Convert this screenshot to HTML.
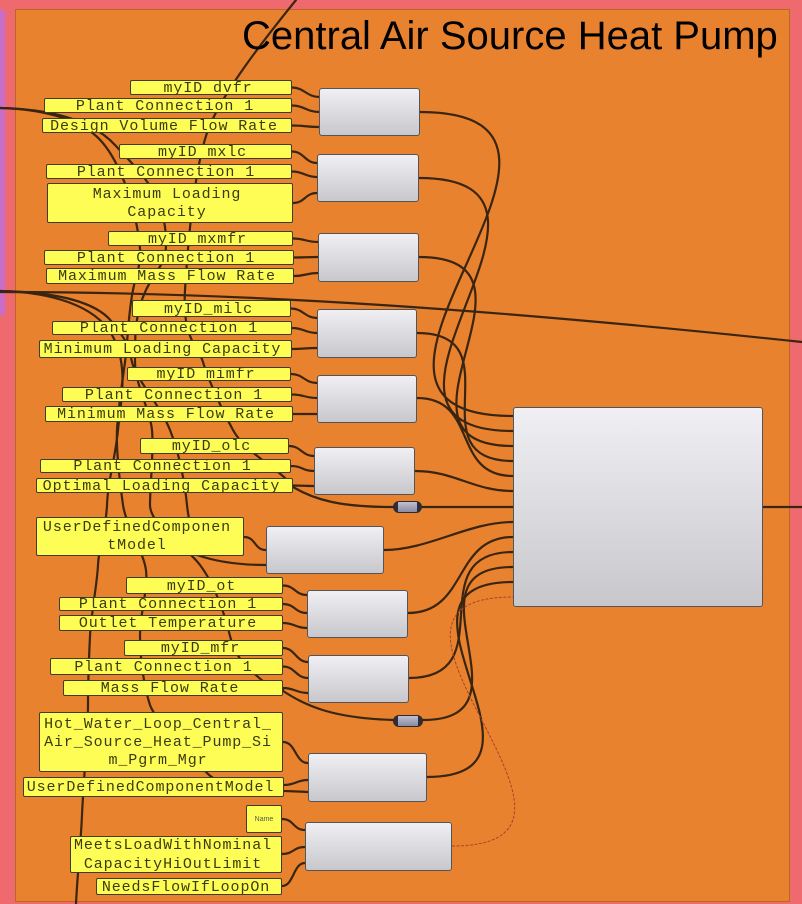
<!DOCTYPE html>
<html>
<head>
<meta charset="utf-8">
<style>
  html,body{margin:0;padding:0;}
  body{width:802px;height:904px;background:#ee6a6e;position:relative;overflow:hidden;}
  .purple{position:absolute;left:0;top:10px;width:5px;height:305px;background:#c86ec8;}
  .grp{position:absolute;left:15px;top:9px;width:775px;height:893px;background:#e8822f;box-shadow:inset 0 0 0 1px rgba(150,80,30,0.55);}
  .title{position:absolute;left:242px;top:16px;font:40px/40px "Liberation Sans",Arial,sans-serif;color:#000;white-space:nowrap;z-index:3;}
  svg.w{position:absolute;left:0;top:0;z-index:1;}
  .p{position:absolute;background:#fdfd55;border:1px solid #3e3e28;border-radius:2px;display:flex;align-items:center;justify-content:center;
     font:15px/15px "Liberation Mono","Courier New",monospace;letter-spacing:.9px;color:#3b3b10;text-align:center;white-space:nowrap;
     padding-right:6px;padding-top:1px;box-sizing:border-box;z-index:2;}
  .p.m{line-height:18px;}
  .p.s{font:7px/7px "Liberation Sans",sans-serif;letter-spacing:0;color:#555;padding:0;}
  .b{position:absolute;background:linear-gradient(#f0f0f4,#c8c8cc);border:1px solid #50555a;border-radius:3px;box-sizing:border-box;z-index:2;}
  .pill{position:absolute;height:12px;border-radius:6px;box-sizing:border-box;border:1px solid #2a2a30;
        background:linear-gradient(to right,#2e2e38 0,#2e2e38 4px,transparent 4px,transparent calc(100% - 4px),#2e2e38 calc(100% - 4px)),linear-gradient(#c0c0d4,#8a8aa2);z-index:2;}
</style>
</head>
<body>
<div class="purple"></div>
<div class="grp"></div>

<svg class="w" width="802" height="904" viewBox="0 0 802 904">
  <g fill="none" stroke="#3a2510" stroke-width="2.2" stroke-linecap="round">
    <!-- long background wires -->
    <path d="M296,0 C262,42 225,90 210,125 S188,240 185,290 S198,345 203,362 S222,410 233,430 S265,460 285,478"/>
    <path d="M0,108 C40,109 75,118 95,135 S130,190 137,227 S138,265 133,290 S128,340 125,362 S118,410 117,430 S120,485 123,505 S140,545 145,565 S140,610 140,636 S145,690 150,705 S190,755 207,773 S270,790 308,792"/>
    <path d="M0,108 C45,109 90,118 115,145 S160,190 165,227 S158,265 146,290 S135,340 135,362 S150,410 152,430 S150,485 150,505 S185,545 200,565 S225,615 230,636 S245,665 257,676 S275,688 283,690"/>
    <path d="M0,291 C50,292 95,305 112,335 S121,400 118,430 S108,480 107,505 S99,545 98,565 S91,615 90,636 S88,680 88,705 S83,790 82,815 S77,880 76,904"/>
    <path d="M0,291 C50,292 95,300 112,322 S128,345 132,362 S160,405 170,430 S185,485 187,505 S195,545 197,555 C220,563 245,565 266,565"/>
    <path d="M0,292 C250,292 500,310 802,342"/>

    <!-- panel -> box wires -->
    <path d="M292,87.5 C304,87.5 307,97 319,97"/>
    <path d="M292,105.5 C304,105.5 307,112 319,112"/>
    <path d="M292,125.5 C304,125.5 307,127 319,127"/>
    <path d="M292,151.5 C304,151.5 305,163 317,163"/>
    <path d="M292,171.5 C304,171.5 305,177 317,177"/>
    <path d="M293,203 C305,203 305,193 317,193"/>
    <path d="M293,238.5 C305,238.5 306,242 318,242"/>
    <path d="M294,257.5 C306,257.5 306,257 318,257"/>
    <path d="M294,276 C306,276 306,273 318,273"/>
    <path d="M291,308.5 C303,308.5 305,318 317,318"/>
    <path d="M292,328 C304,328 305,333 317,333"/>
    <path d="M292,349 C304,349 305,348 317,348"/>
    <path d="M291,374 C303,374 305,383 317,383"/>
    <path d="M292,394.5 C304,394.5 305,398 317,398"/>
    <path d="M293,414 C305,414 305,414 317,414"/>
    <path d="M289,446 C301,446 302,456 314,456"/>
    <path d="M291,466 C303,466 302,471 314,471"/>
    <path d="M293,485.5 C303,485.5 304,486 314,486"/>
    <path d="M293,487 C315,500 340,507 393,507"/>
    <path d="M244,537 C256,537 254,550 266,550"/>
    <path d="M283,585.5 C295,585.5 295,595 307,595"/>
    <path d="M283,604 C295,604 295,613 307,613"/>
    <path d="M283,623 C295,623 295,628 307,628"/>
    <path d="M283,648 C295,648 296,662 308,662"/>
    <path d="M283,666.5 C295,666.5 296,678 308,678"/>
    <path d="M283,688 C295,688 296,693 308,693"/>
    <path d="M283,691 C305,705 330,718 393,720"/>
    <path d="M283,742 C296,742 295,763 308,763"/>
    <path d="M284,785 C296,785 296,780 308,780"/>
    <path d="M282,819 C294,819 293,830 305,830"/>
    <path d="M282,854 C294,854 293,847 305,847"/>
    <path d="M282,886 C294,886 293,863 305,863"/>

    <!-- box -> big box wires -->
    <path d="M420,112 C650,112 283,416 513,416"/>
    <path d="M419,178 C611,178 321,431 513,431"/>
    <path d="M419,257 C563,257 369,446 513,446"/>
    <path d="M417,333 C517,333 413,461 513,461"/>
    <path d="M417,398 C479,398 451,476 513,476"/>
    <path d="M415,471 C455,471 473,491 513,491"/>
    <path d="M422,507 L513,507"/>
    <path d="M384,550 C429,550 468,522 513,522"/>
    <path d="M408,613 C468,613 453,537 513,537"/>
    <path d="M409,678 C505,678 417,552 513,552"/>
    <path d="M423,720 C539,720 397,567 513,567"/>
    <path d="M427,777 C575,777 365,582 513,582"/>
    <path d="M763,507 L802,507"/>
  </g>
  <path d="M452,846 C641,846 324,597 513,597" fill="none" stroke="#a8442a" stroke-width="1" stroke-dasharray="3,1.5"/>
</svg>

<div class="title">Central Air Source Heat Pump</div>

<!-- panels -->
<div class="p" style="left:130px;top:80px;width:162px;height:15px;">myID dvfr</div>
<div class="p" style="left:44px;top:98px;width:248px;height:15px;">Plant Connection 1</div>
<div class="p" style="left:42px;top:118px;width:250px;height:15px;">Design Volume Flow Rate</div>
<div class="p" style="left:119px;top:144px;width:173px;height:15px;">myID mxlc</div>
<div class="p" style="left:46px;top:164px;width:246px;height:15px;">Plant Connection 1</div>
<div class="p m" style="left:47px;top:183px;width:246px;height:40px;">Maximum Loading<br>Capacity</div>
<div class="p" style="left:108px;top:231px;width:185px;height:15px;">myID mxmfr</div>
<div class="p" style="left:44px;top:250px;width:250px;height:15px;">Plant Connection 1</div>
<div class="p" style="left:46px;top:268px;width:248px;height:16px;">Maximum Mass Flow Rate</div>
<div class="p" style="left:132px;top:300px;width:159px;height:17px;">myID_milc</div>
<div class="p" style="left:52px;top:321px;width:240px;height:14px;">Plant Connection 1</div>
<div class="p" style="left:39px;top:340px;width:253px;height:18px;">Minimum Loading Capacity</div>
<div class="p" style="left:127px;top:367px;width:164px;height:14px;">myID mimfr</div>
<div class="p" style="left:62px;top:387px;width:230px;height:15px;">Plant Connection 1</div>
<div class="p" style="left:45px;top:406px;width:248px;height:16px;">Minimum Mass Flow Rate</div>
<div class="p" style="left:140px;top:438px;width:149px;height:16px;">myID_olc</div>
<div class="p" style="left:40px;top:459px;width:251px;height:14px;">Plant Connection 1</div>
<div class="p" style="left:36px;top:478px;width:257px;height:15px;">Optimal Loading Capacity</div>
<div class="p m" style="left:36px;top:517px;width:208px;height:39px;">UserDefinedComponen<br>tModel</div>
<div class="p" style="left:126px;top:577px;width:157px;height:17px;">myID_ot</div>
<div class="p" style="left:59px;top:597px;width:224px;height:14px;">Plant Connection 1</div>
<div class="p" style="left:59px;top:615px;width:224px;height:16px;">Outlet Temperature</div>
<div class="p" style="left:124px;top:640px;width:159px;height:16px;">myID_mfr</div>
<div class="p" style="left:50px;top:658px;width:233px;height:17px;">Plant Connection 1</div>
<div class="p" style="left:63px;top:680px;width:220px;height:16px;">Mass Flow Rate</div>
<div class="p m" style="left:39px;top:712px;width:244px;height:60px;">Hot_Water_Loop_Central_<br>Air_Source_Heat_Pump_Si<br>m_Pgrm_Mgr</div>
<div class="p" style="left:23px;top:777px;width:261px;height:20px;">UserDefinedComponentModel</div>
<div class="p s" style="left:246px;top:805px;width:36px;height:28px;">Name</div>
<div class="p m" style="left:70px;top:836px;width:212px;height:37px;line-height:19px;">MeetsLoadWithNominal<br>CapacityHiOutLimit</div>
<div class="p" style="left:96px;top:878px;width:186px;height:17px;">NeedsFlowIfLoopOn</div>

<!-- component boxes -->
<div class="b" style="left:319px;top:88px;width:101px;height:48px;"></div>
<div class="b" style="left:317px;top:154px;width:102px;height:48px;"></div>
<div class="b" style="left:318px;top:233px;width:101px;height:49px;"></div>
<div class="b" style="left:317px;top:309px;width:100px;height:49px;"></div>
<div class="b" style="left:317px;top:375px;width:100px;height:48px;"></div>
<div class="b" style="left:314px;top:447px;width:101px;height:48px;"></div>
<div class="b" style="left:266px;top:526px;width:118px;height:48px;"></div>
<div class="b" style="left:307px;top:590px;width:101px;height:48px;"></div>
<div class="b" style="left:308px;top:655px;width:101px;height:48px;"></div>
<div class="b" style="left:308px;top:753px;width:119px;height:49px;"></div>
<div class="b" style="left:305px;top:822px;width:147px;height:49px;"></div>
<div class="b" style="left:513px;top:407px;width:250px;height:200px;"></div>

<!-- relay pills -->
<div class="pill" style="left:393px;top:501px;width:29px;"></div>
<div class="pill" style="left:393px;top:715px;width:30px;"></div>
</body>
</html>
